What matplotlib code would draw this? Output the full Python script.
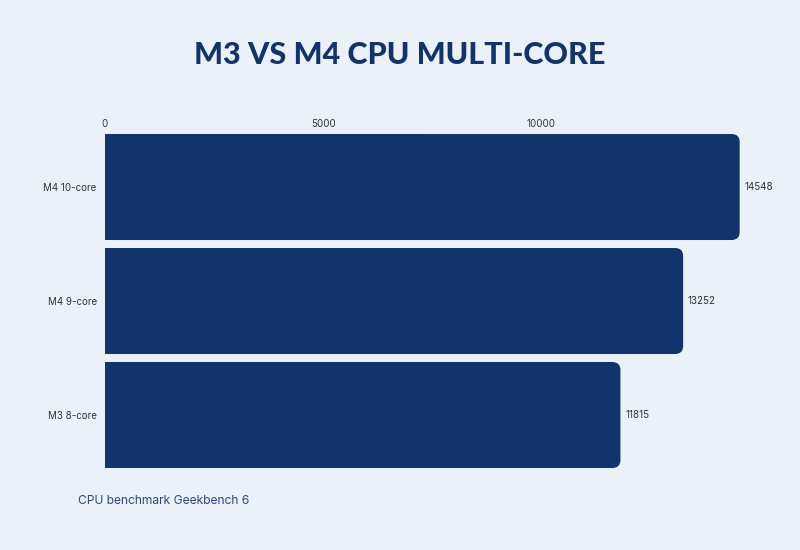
import matplotlib
matplotlib.use("Agg")
import matplotlib.pyplot as plt
from matplotlib.patches import FancyBboxPatch

categories = ["M4 10-core", "M4 9-core", "M3 8-core"]
scores = [14548, 13252, 11815]
x_ticks = [0, 5000, 10000]
x_tick_labels = ["0", "5000", "10000"]

BG = "#EBF1F9"
BAR = "#12346C"
TXT = "#333333"

fig = plt.figure(figsize=(8, 5.5), dpi=100, facecolor=BG)
ax = fig.add_axes([0.13125, 0.1418, 0.818, 0.6218], facecolor=BG)

ax.set_xlim(0, 15000)
ax.set_ylim(2.5, -0.5)

bar_h = 0.93
rx = 190.0
ry = 0.07
for i, (cat, v) in enumerate(zip(categories, scores)):
    box = FancyBboxPatch((0, i - bar_h / 2), v, bar_h,
                         boxstyle=f"round,pad=0,rounding_size={rx}",
                         mutation_aspect=ry / rx,
                         facecolor=BAR, edgecolor="none", zorder=2)
    ax.add_patch(box)
    ax.text(v + 110, i, str(v), va="center", ha="left", fontsize=7, color=TXT,
            family=["Inter", "DejaVu Sans"])

# square left ends
ax.barh(range(len(categories)), [s / 2 for s in scores], height=bar_h,
        left=0, color=BAR, edgecolor="none", zorder=2)

ax.set_yticks(range(len(categories)))
ax.set_yticklabels(categories, fontsize=7, color=TXT, family=["Inter", "DejaVu Sans"])
ax.set_xticks(x_ticks)
ax.set_xticklabels(x_tick_labels, fontsize=7, color=TXT, family=["Inter", "DejaVu Sans"])
ax.xaxis.tick_top()
ax.tick_params(axis="y", length=0, pad=6)
ax.tick_params(axis="x", length=0, pad=0.5)
for s in ax.spines.values():
    s.set_visible(False)

fig.text(0.5, 1 - 55 / 550, "M3 VS M4 CPU MULTI-CORE", ha="center", va="center",
         fontsize=22, fontweight=900, color=BAR, family=["Lato", "DejaVu Sans"])
fig.text(78 / 800, 1 - 501 / 550, "CPU benchmark Geekbench 6", ha="left", va="center",
         fontsize=8.7, color="#2C4A7A", family=["Inter", "DejaVu Sans"])

fig.savefig("out.png", dpi=100, facecolor=BG)
